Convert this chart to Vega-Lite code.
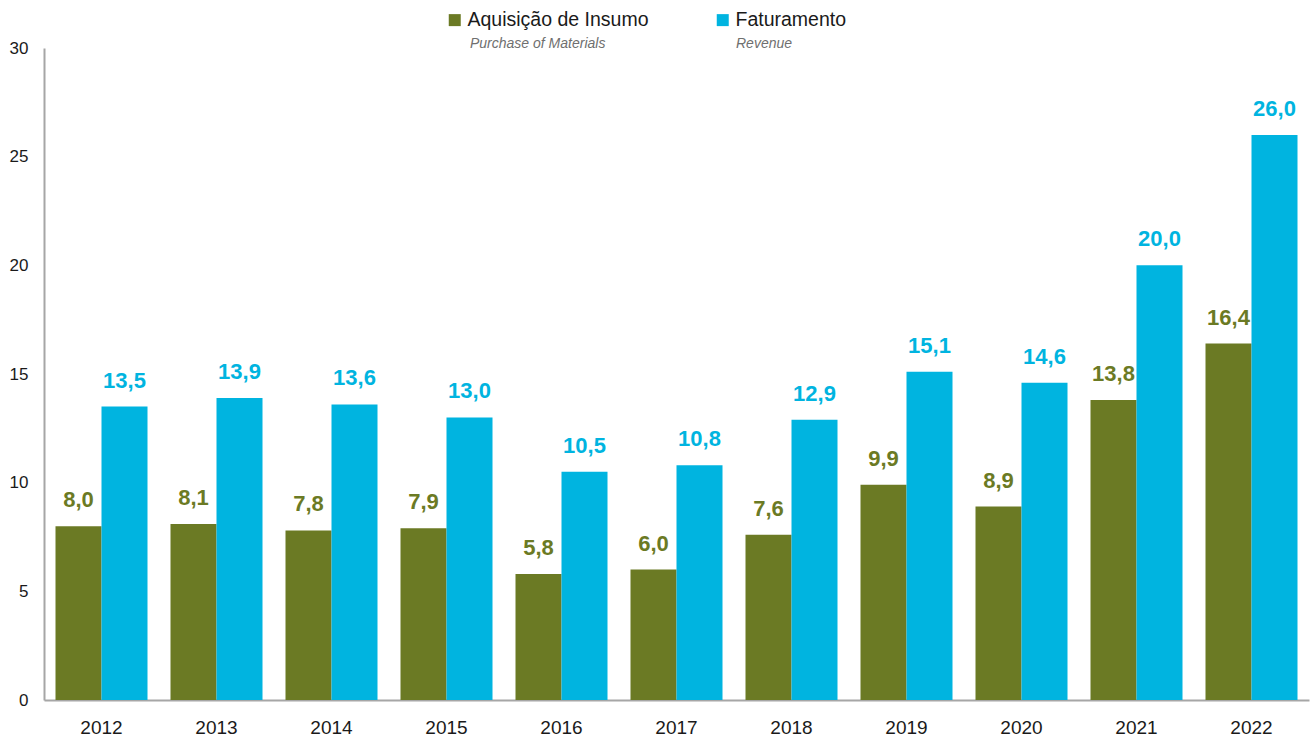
{
  "$schema": "https://vega.github.io/schema/vega-lite/v6.json",
  "width": 1265,
  "height": 652,
  "autosize": {"type": "none"},
  "padding": {"left": 44, "top": 48, "right": 3, "bottom": 40},
  "background": "white",
  "config": {
    "view": {"stroke": null},
    "locale": {"number": {"decimal": ",", "thousands": ".", "grouping": [3], "currency": ["R$", ""]}},
    "font": "Liberation Sans, Arial, sans-serif"
  },
  "data": {
    "values": [
      {"ano": "2012", "serie": "Aquisição de Insumo", "serie_en": "Purchase of Materials", "valor": 8.0},
      {"ano": "2012", "serie": "Faturamento", "serie_en": "Revenue", "valor": 13.5},
      {"ano": "2013", "serie": "Aquisição de Insumo", "serie_en": "Purchase of Materials", "valor": 8.1},
      {"ano": "2013", "serie": "Faturamento", "serie_en": "Revenue", "valor": 13.9},
      {"ano": "2014", "serie": "Aquisição de Insumo", "serie_en": "Purchase of Materials", "valor": 7.8},
      {"ano": "2014", "serie": "Faturamento", "serie_en": "Revenue", "valor": 13.6},
      {"ano": "2015", "serie": "Aquisição de Insumo", "serie_en": "Purchase of Materials", "valor": 7.9},
      {"ano": "2015", "serie": "Faturamento", "serie_en": "Revenue", "valor": 13.0},
      {"ano": "2016", "serie": "Aquisição de Insumo", "serie_en": "Purchase of Materials", "valor": 5.8},
      {"ano": "2016", "serie": "Faturamento", "serie_en": "Revenue", "valor": 10.5},
      {"ano": "2017", "serie": "Aquisição de Insumo", "serie_en": "Purchase of Materials", "valor": 6.0},
      {"ano": "2017", "serie": "Faturamento", "serie_en": "Revenue", "valor": 10.8},
      {"ano": "2018", "serie": "Aquisição de Insumo", "serie_en": "Purchase of Materials", "valor": 7.6},
      {"ano": "2018", "serie": "Faturamento", "serie_en": "Revenue", "valor": 12.9},
      {"ano": "2019", "serie": "Aquisição de Insumo", "serie_en": "Purchase of Materials", "valor": 9.9},
      {"ano": "2019", "serie": "Faturamento", "serie_en": "Revenue", "valor": 15.1},
      {"ano": "2020", "serie": "Aquisição de Insumo", "serie_en": "Purchase of Materials", "valor": 8.9},
      {"ano": "2020", "serie": "Faturamento", "serie_en": "Revenue", "valor": 14.6},
      {"ano": "2021", "serie": "Aquisição de Insumo", "serie_en": "Purchase of Materials", "valor": 13.8},
      {"ano": "2021", "serie": "Faturamento", "serie_en": "Revenue", "valor": 20.0},
      {"ano": "2022", "serie": "Aquisição de Insumo", "serie_en": "Purchase of Materials", "valor": 16.4},
      {"ano": "2022", "serie": "Faturamento", "serie_en": "Revenue", "valor": 26.0}
    ]
  },
  "encoding": {
    "x": {
      "field": "ano", "type": "nominal", "title": null,
      "scale": {"paddingInner": 0.2, "paddingOuter": 0.1},
      "axis": {
        "labelAngle": 0, "ticks": false, "domainColor": "#a6a6a6", "domainWidth": 2,
        "labelFontSize": 19, "labelColor": "#1a1a1a", "labelPadding": 18, "grid": false
      }
    },
    "xOffset": {"field": "serie", "type": "nominal", "scale": {"paddingInner": 0, "paddingOuter": 0}},
    "y": {
      "field": "valor", "type": "quantitative", "title": null,
      "scale": {"domain": [0, 30], "nice": false},
      "axis": {
        "values": [0, 5, 10, 15, 20, 25, 30], "ticks": false, "grid": false,
        "domainColor": "#a6a6a6", "domainWidth": 2,
        "labelFontSize": 17, "labelColor": "#1a1a1a", "labelPadding": 16
      }
    },
    "color": {
      "field": "serie", "type": "nominal",
      "scale": {"domain": ["Aquisição de Insumo", "Faturamento"], "range": ["#6b7a24", "#00b4e0"]},
      "legend": {
        "orient": "none", "legendX": 401, "legendY": -38, "direction": "horizontal", "title": null,
        "symbolType": "square", "symbolSize": 144, "symbolStrokeWidth": 0, "symbolOpacity": 1,
        "labelFontSize": 19.5, "labelColor": "#1a1a1a", "labelOffset": 3, "columnPadding": 64,
        "padding": 0, "labelLimit": 400
      }
    }
  },
  "layer": [
    {
      "mark": {"type": "bar", "cornerRadius": 0},
      "encoding": {
        "opacity": {
          "field": "serie_en", "type": "nominal",
          "scale": {"domain": ["Purchase of Materials", "Revenue"], "range": [1, 1]},
          "legend": {
            "orient": "none", "legendX": 404, "legendY": -11, "direction": "horizontal", "title": null,
            "symbolType": "square", "symbolSize": 144, "symbolFillColor": "transparent", "symbolStrokeColor": "transparent", "symbolStrokeWidth": 0,
            "labelFontSize": 14, "labelFontStyle": "italic", "labelColor": "#6f6f6f",
            "labelOffset": 8, "columnPadding": 108, "padding": 0, "labelLimit": 400
          }
        }
      }
    },
    {
      "mark": {"type": "text", "baseline": "alphabetic", "dy": -19, "fontSize": 22, "fontWeight": "bold"},
      "encoding": {
        "text": {"field": "valor", "type": "quantitative", "format": ".1f"}
      }
    }
  ]
}
